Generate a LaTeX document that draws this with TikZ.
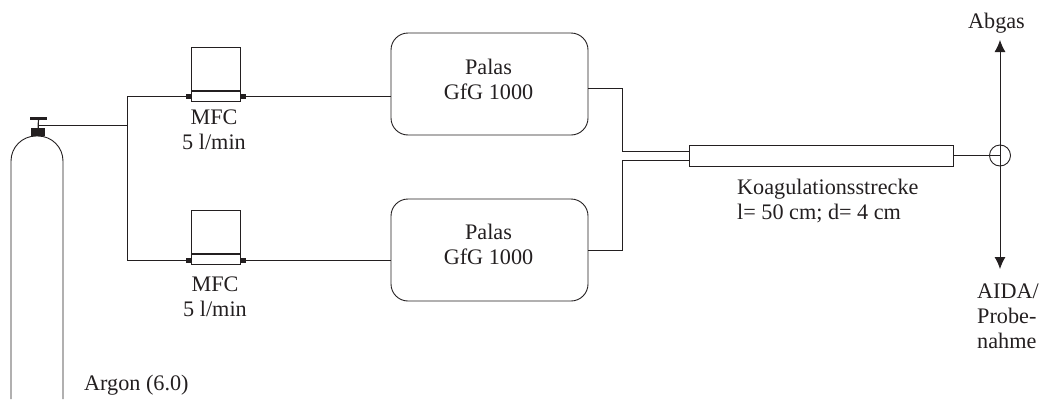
\documentclass[tikz,border=0pt]{standalone}
\usepackage{fontspec}
\setmainfont{Liberation Serif}
\usepackage{tikz}
\usetikzlibrary{positioning,arrows.meta}
\definecolor{inkgray}{HTML}{231F20}
\tikzset{
  pipe/.style={draw=inkgray, line width=0.9pt},
  flowarrow/.style={{Latex[length=12pt,width=11pt]}-{Latex[length=12pt,width=11pt]}, draw=inkgray, line width=0.9pt},
  palasbox/.style={draw=inkgray, line width=0.9pt, rounded corners=17pt, minimum width=197pt, minimum height=102pt, inner sep=0pt},
  mfchead/.style={draw=inkgray, line width=0.9pt, minimum width=49pt, minimum height=43pt, inner sep=0pt},
  mfcstrip/.style={draw=inkgray, line width=0.9pt, minimum width=49pt, minimum height=10pt, inner sep=0pt},
  fitting/.style={fill=inkgray, minimum width=6pt, minimum height=5pt, inner sep=0pt},
  tubebox/.style={draw=inkgray, line width=0.9pt, minimum width=264pt, minimum height=21pt, inner sep=0pt},
  label/.style={font=\fontsize{22.2}{25}\selectfont, text=inkgray, align=center, inner sep=0pt}
}
\begin{document}
\begin{tikzpicture}[x=1pt, y=-1pt]
      \useasboundingbox (0,0) rectangle (1039,399);
      % gas bottle
      \coordinate (bottlel) at (11,399);
      \coordinate (bottler) at (63,399);
      \draw[pipe, rounded corners=25pt] (bottlel) -- (11,136) -- (63,136) -- (bottler);
      \node[fill=inkgray, minimum width=14pt, minimum height=8pt, inner sep=0pt] (valve) at (38,132) {};
      \node[fill=inkgray, minimum width=17pt, minimum height=3pt, inner sep=0pt] (handle) at (38.5,118.5) {};
      \draw[pipe, line width=1.2pt] (handle) -- (valve);
      \coordinate (split) at (127,125);
      \draw[pipe] (38.5,125) -- (split);
      \node[label, anchor=west] (argon) at (84,385) {Argon (6.0)};

      % upper branch
      \node[mfcstrip] (stripa) at (216,96) {};
      \node[mfchead, above=0pt of stripa] (heada) {};
      \node[fitting] (inleta) at (189,96.5) {};
      \node[fitting] (outleta) at (243,96.5) {};
      \node[label] (mfca) at (214,130) {MFC\\5 l/min};
      \node[palasbox] (palasa) at (489.5,84) {};
      \node[label] (palasatext) at (488.5,79) {Palas\\GfG 1000};

      % lower branch
      \node[mfcstrip] (stripb) at (216,259.5) {};
      \node[mfchead, above=0pt of stripb] (headb) {};
      \node[fitting] (inletb) at (189,260) {};
      \node[fitting] (outletb) at (243,260) {};
      \node[label] (mfcb) at (215,296.5) {MFC\\5 l/min};
      \node[palasbox] (palasb) at (489.5,250) {};
      \node[label] (palasbtext) at (488.5,244) {Palas\\GfG 1000};

      % tube and exit
      \node[tubebox] (tube) at (821,155.5) {};
      \node[label, anchor=north west, align=left] (tubetext) at (737,179) {Koagulationsstrecke\\l= 50 cm; d= 4 cm};
      \node[draw=inkgray, line width=0.9pt, circle, minimum size=21pt, inner sep=0pt] (cross) at (1000,155.5) {};
      \node[label] (abgas) at (996.5,23) {Abgas};
      \node[label, anchor=north west, align=left] (aida) at (977,284) {AIDA/\\Probe-\\nahme};
      \coordinate (outtop) at (1000,40);
      \coordinate (outbot) at (1000,269);

      \draw[pipe] (inleta) -| (split);
      \draw[pipe] (inletb) -| (split);
      \draw[pipe] (outleta) -- (outleta -| palasa.west);
      \draw[pipe] (outletb) -- (outletb -| palasb.west);
      \draw[pipe] (palasa.east |- 0,88) -| (622,151) -- (tube.west |- 0,151);
      \draw[pipe] (palasb.east) -| (622,160) -- (tube.west |- 0,160);
      \draw[pipe] (tube.east) -- (cross.center);
      \draw[flowarrow] (outtop) -- (outbot);
    \end{tikzpicture}
\end{document}
